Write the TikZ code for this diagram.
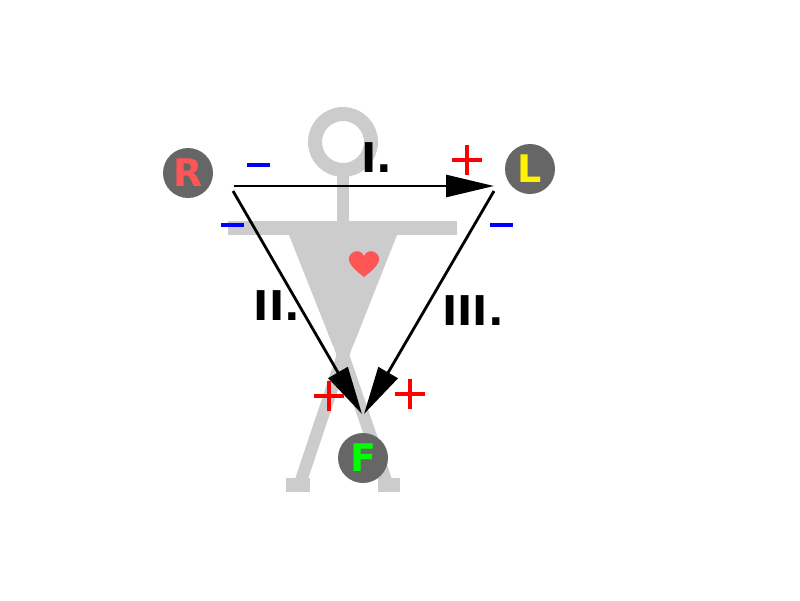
\documentclass[tikz,border=0pt]{standalone}
\usepackage{fontspec}
\setmainfont{DejaVu Sans}
\usetikzlibrary{arrows.meta}
\definecolor{body}{HTML}{CCCCCC}
\definecolor{disc}{HTML}{666666}
\definecolor{heart}{HTML}{FF5555}
\definecolor{fgreen}{HTML}{00FF00}
\tikzset{
  limb/.style={fill=disc, circle, minimum size=50pt, inner sep=0pt, font=\fontsize{38}{38}\selectfont\bfseries},
  lead/.style={line width=2.8pt, -{Triangle[length=48pt,width=22pt]}},
  lbl/.style={font=\fontsize{41}{41}\selectfont\bfseries},
  minus/.style={blue, line width=4pt},
  plus/.style={red, line width=4pt}
}
\begin{document}
\begin{tikzpicture}[x=1pt,y=-1pt]
\useasboundingbox (0,0) rectangle (800,600);
% body
\draw[body, line width=14pt] (343,142) circle (28);
\fill[body] (337,170) rectangle (349,222);
\fill[body] (228,221) rectangle (457,235);
\fill[body] (289,235) -- (397,235) -- (353,346) -- (333,346) -- cycle;
\fill[body] (340,345) -- (353,345) -- (306,485) -- (293,485) -- cycle;
\fill[body] (333,345) -- (346,345) -- (394,485) -- (381,485) -- cycle;
\fill[body] (286,478) rectangle (310,492);
\fill[body] (378,478) rectangle (400,492);
% heart
\fill[heart] (364,277) .. controls (352,268) and (345,260) .. (351,254) .. controls (356,249) and (362,251) .. (364,256) .. controls (366,251) and (372,249) .. (377,254) .. controls (383,260) and (376,268) .. (364,277) -- cycle;
% limb electrodes
\node[limb, text=heart] (R) at (188,173) {R};
\node[limb, text=yellow] (L) at (530,169) {L};
\node[limb, text=fgreen] (F) at (363,458) {F};
% lead endpoints
\coordinate (a1) at (234,186);
\coordinate (a2) at (494,186);
\coordinate (b1) at (233,191);
\coordinate (b2) at (362,414);
\coordinate (c1) at (494,191);
\coordinate (c2) at (364,414);
\draw[lead] (a1) -- (a2);
\draw[lead] (b1) -- (b2);
\draw[lead] (c1) -- (c2);
% labels
\node[lbl] (l1) at (377,158) {I.};
\node[lbl] (l2) at (277,306) {II.};
\node[lbl] (l3) at (473,311) {III.};
% signs
\draw[minus] (247,165) -- (270,165);
\draw[minus] (221,225) -- (244,225);
\draw[minus] (490,225) -- (513,225);
\draw[plus] (452,160) -- (482,160) (467,145) -- (467,175);
\draw[plus] (314,396) -- (344,396) (329,381) -- (329,411);
\draw[plus] (395,394) -- (425,394) (410,379) -- (410,409);
\end{tikzpicture}
\end{document}
